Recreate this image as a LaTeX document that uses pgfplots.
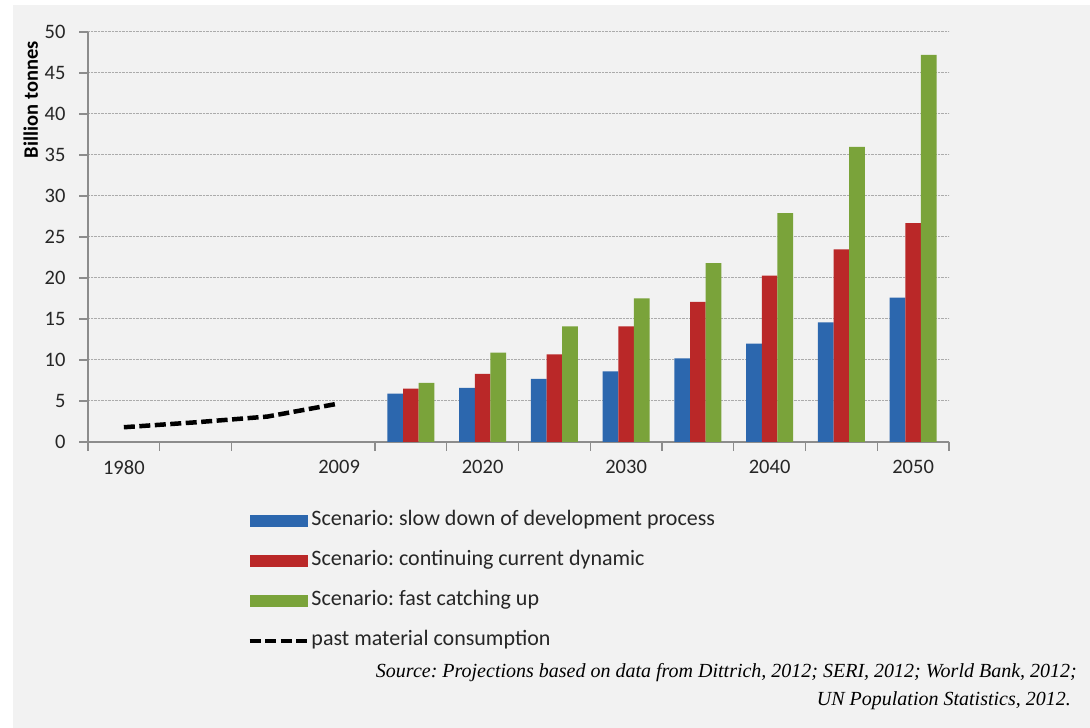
\documentclass[border=0pt]{standalone}
\usepackage{fontspec}
\setmainfont{Carlito}
\newfontfamily\srcfont{Liberation Serif}
\usepackage{pgfplots}
\pgfplotsset{compat=1.18}
\definecolor{bg}{HTML}{F2F2F2}
\definecolor{sblue}{HTML}{2C67AE}
\definecolor{sred}{HTML}{BA2828}
\definecolor{sgreen}{HTML}{7AA33A}
\definecolor{axgray}{HTML}{8C8C8C}
\definecolor{gridgray}{HTML}{ABABAB}
\frenchspacing
\begin{document}
\begin{tikzpicture}
\path[use as bounding box, fill=white] (0pt,0pt) rectangle (1090pt,728pt);
\fill[bg] (13pt,0pt) rectangle (1090pt,723pt);
\begin{axis}[
  at={(88pt,286pt)}, anchor=south west,
  scale only axis, width=861pt, height=410pt,
  xmin=-0.5, xmax=11.5, ymin=0, ymax=50,
  axis x line*=bottom, axis y line*=left,
  axis line style={axgray, line width=1.2pt, -},
  ytick={0,5,...,50},
  xtick={-0.5,0.5,1.5,3.5,4.5,5.5,6.5,7.5,8.5,9.5,10.5,11.5},
  xticklabels={,1980,,2009,,2020,,2030,,2040,,2050},
  tick align=outside,
  major tick length=9pt,
  tick style={axgray, line width=1.2pt},
  ymajorgrids,
  major grid style={gridgray, densely dotted, line width=1pt},
  /pgf/number format/assume math mode=true,
  tick label style={font=\fontsize{20.5}{24}\selectfont, text=black!85},
  yticklabel style={xshift=-10pt},
  xticklabel style={xshift=-35.9pt, yshift=-6pt},
  ylabel={\bfseries Billion tonnes},
  ylabel style={at={(axis description cs:-0.0665,0.835)}, anchor=center, font=\fontsize{20.5}{24}\selectfont},
  legend style={at={(axis description cs:0.185,-0.165)}, anchor=north west,
    draw=none, fill=none, font=\fontsize{22}{26}\selectfont,
    row sep=18pt, inner sep=0pt,
    nodes={inner sep=1.5pt, text height=14pt, text depth=5pt, text=black!85}},
  legend cell align=left,
]
\addplot[ybar, bar width=15.6pt, bar shift=-15.6pt, fill=sblue, draw=none,
  legend image code/.code={\fill[sblue] (0pt,-6.3pt) rectangle (58pt,6.3pt);}]
  coordinates {(4,5.9) (5,6.6) (6,7.7) (7,8.6) (8,10.2) (9,12.0) (10,14.6) (11,17.6)};
\addlegendentry{Scenario: slow down of development process}
\addplot[ybar, bar width=15.6pt, bar shift=0pt, fill=sred, draw=none,
  legend image code/.code={\fill[sred] (0pt,-6.3pt) rectangle (58pt,6.3pt);}]
  coordinates {(4,6.5) (5,8.3) (6,10.7) (7,14.1) (8,17.1) (9,20.3) (10,23.5) (11,26.7)};
\addlegendentry{Scenario: continuing current dynamic}
\addplot[ybar, bar width=15.6pt, bar shift=15.6pt, fill=sgreen, draw=none,
  legend image code/.code={\fill[sgreen] (0pt,-6.3pt) rectangle (58pt,6.3pt);}]
  coordinates {(4,7.2) (5,10.9) (6,14.1) (7,17.5) (8,21.8) (9,27.9) (10,36.0) (11,47.2)};
\addlegendentry{Scenario: fast catching up}
\addplot[sharp plot, black, line width=4.5pt, dash pattern=on 11pt off 4.5pt,
  legend image code/.code={\draw[black, line width=4.5pt, dash pattern=on 11pt off 4.5pt] (0pt,0pt) -- (58pt,0pt);}]
  coordinates {(0,1.8) (1,2.4) (2,3.1) (3,4.7)};
\addlegendentry{past material consumption}
\end{axis}
\node[anchor=base east, inner sep=0pt, font=\srcfont\itshape\fontsize{20}{24}\selectfont] at (1077pt,50pt)
  {Source: Projections based on data from Dittrich, 2012; SERI, 2012; World Bank, 2012;};
\node[anchor=base east, inner sep=0pt, font=\srcfont\itshape\fontsize{20}{24}\selectfont] at (1071pt,22pt)
  {UN Population Statistics, 2012.};
\end{tikzpicture}
\end{document}
